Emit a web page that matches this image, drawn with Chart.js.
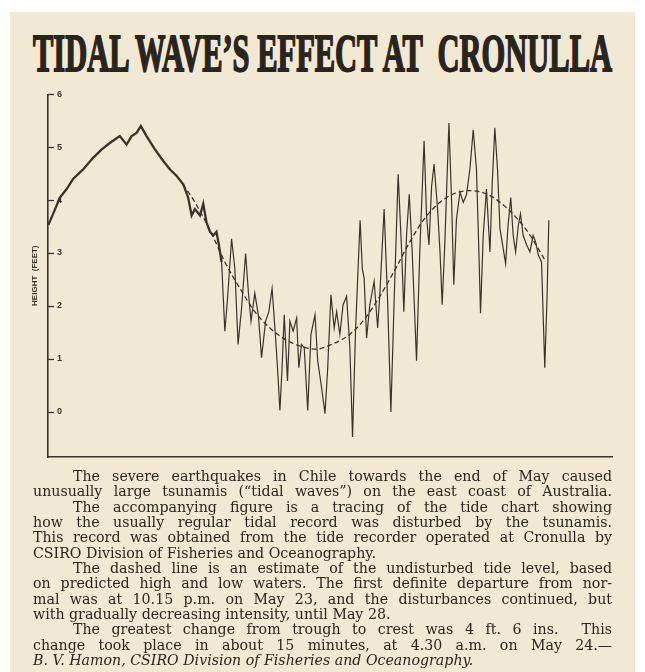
<!DOCTYPE html>
<html>
<head>
<meta charset="utf-8">
<script src="https://cdn.jsdelivr.net/npm/chart.js@4.4.0/dist/chart.umd.min.js"></script>
<style>
  html, body { margin: 0; padding: 0; background: #fff; }
  body { width: 645px; height: 672px; position: relative; overflow: hidden; }
  #page { position: absolute; left: 10px; top: 12px; width: 625px; height: 660px; background: #f1e9d3; }
  #title {
    position: absolute; left: 33px; top: 28px; white-space: pre;
    font: bold 52px "Liberation Serif"; line-height: 1; color: #2a241d;
    -webkit-text-stroke: 1.8px #2a241d; transform-origin: 0 0;
  }
  #chartBox { position: absolute; left: 0; top: 80px; width: 645px; height: 395px; }
  #text {
    position: absolute; left: 33px; top: 469px; width: 579px;
    font: 14.2px "DejaVu Serif"; line-height: 15.35px; color: #2b261f;
  }
  #text div { text-align: justify; text-align-last: justify; }
  #text div.in { padding-left: 40px; }
  #text div.end { text-align-last: left; }
  #text div.sig { font-style: italic; text-align-last: left; }
</style>
</head>
<body>
<div id="page"></div>
<div id="title">TIDAL WAVE’S EFFECT AT  CRONULLA</div>
<div id="chartBox"><canvas id="tide" width="645" height="395"></canvas></div>
<div id="text">
  <div class="in">The severe earthquakes in Chile towards the end of May caused</div>
  <div>unusually large tsunamis (“tidal waves”) on the east coast of Australia.</div>
  <div class="in">The accompanying figure is a tracing of the tide chart showing</div>
  <div>how the usually regular tidal record was disturbed by the tsunamis.</div>
  <div>This record was obtained from the tide recorder operated at Cronulla by</div>
  <div class="end">CSIRO Division of Fisheries and Oceanography.</div>
  <div class="in">The dashed line is an estimate of the undisturbed tide level, based</div>
  <div>on predicted high and low waters. The first definite departure from nor-</div>
  <div>mal was at 10.15 p.m. on May 23, and the disturbances continued, but</div>
  <div class="end">with gradually decreasing intensity, until May 28.</div>
  <div class="in">The greatest change from trough to crest was 4 ft. 6 ins.&nbsp; This</div>
  <div>change took place in about 15 minutes, at 4.30 a.m. on May 24.—</div>
  <div class="sig">B. V. Hamon, CSIRO Division of Fisheries and Oceanography.</div>
</div>
<script>
// hours after noon 23-5-60, height in feet
const recordHours = [3.68, 3.86, 4.11, 4.36, 4.60, 4.97, 5.34, 5.66, 5.96, 6.33, 6.58, 6.77, 6.95, 7.11, 7.32,
  7.63, 7.94, 8.19, 8.43, 8.68, 8.86, 8.99, 9.11, 9.30, 9.42, 9.54, 9.67, 9.79, 9.91, 10.00,
  10.10, 10.22, 10.32, 10.47, 10.59, 10.71, 10.84, 10.99, 11.09, 11.19, 11.33, 11.46, 11.58, 11.73, 11.85,
  11.97, 12.10, 12.17, 12.26, 12.34, 12.42, 12.54, 12.63, 12.75, 12.88, 12.96, 13.06, 13.16, 13.29, 13.41,
  13.56, 13.66, 13.80, 13.93, 14.03, 14.15, 14.27, 14.36, 14.48, 14.60, 14.73, 14.85, 14.95, 15.06, 15.16,
  15.23, 15.31, 15.38, 15.47, 15.59, 15.75, 15.88, 15.96, 16.12, 16.25, 16.37, 16.49, 16.64, 16.77, 16.85,
  16.95, 17.05, 17.16, 17.32, 17.44, 17.60, 17.69, 17.78, 17.88, 17.97, 18.10, 18.19, 18.27, 18.37, 18.52,
  18.62, 18.70, 18.80, 18.93, 19.05, 19.17, 19.30, 19.42, 19.54, 19.63, 19.69, 19.79, 19.91, 20.04, 20.12,
  20.22, 20.32, 20.41, 20.49, 20.62, 20.71, 20.81, 20.90, 20.99, 21.09, 21.17, 21.27, 21.40, 21.52, 21.64,
  21.73, 21.83, 21.95, 22.07, 22.15, 22.22];
const recordFeet = [3.53, 3.74, 4.05, 4.21, 4.40, 4.58, 4.80, 4.96, 5.08, 5.21, 5.05, 5.21, 5.27, 5.40, 5.21,
  4.96, 4.74, 4.58, 4.46, 4.30, 4.05, 3.71, 3.83, 3.71, 3.93, 3.58, 3.40, 3.33, 3.40, 3.15,
  2.83, 1.52, 2.14, 3.27, 2.71, 1.27, 1.96, 2.99, 2.27, 1.71, 2.24, 1.83, 1.02, 1.71, 1.89,
  2.33, 1.39, 0.83, 0.02, 0.83, 1.83, 0.58, 1.71, 1.52, 1.77, 0.83, 1.27, 1.21, 0.02, 1.46,
  1.83, 0.96, 0.46, -0.04, 0.83, 2.21, 1.58, 1.89, 1.46, 2.02, 2.18, 1.21, -0.48, 1.52, 2.77,
  3.62, 2.71, 2.52, 1.39, 2.02, 2.46, 1.58, 2.21, 3.83, 2.08, -0.01, 2.08, 4.49, 3.02, 1.89,
  3.33, 4.11, 3.02, 0.96, 3.02, 5.12, 3.71, 3.15, 4.27, 4.68, 3.83, 3.02, 2.02, 3.21, 5.46,
  3.96, 2.40, 3.65, 4.15, 3.96, 4.10, 4.60, 5.33, 4.58, 3.02, 1.86, 3.33, 4.21, 3.02, 4.27,
  5.37, 4.58, 3.46, 3.21, 2.80, 3.52, 4.05, 3.33, 3.02, 3.52, 3.74, 3.33, 3.15, 3.02, 3.33,
  3.21, 2.96, 2.83, 0.83, 2.08, 3.62];
const tideHours = [8.67, 9.11, 9.67, 10.22, 10.78, 11.33, 11.89, 12.44, 13.00, 13.59, 14.22, 14.85, 15.41,
  15.96, 16.52, 17.07, 17.63, 18.19, 18.74, 19.30, 19.85, 20.41, 20.96, 21.52, 22.07];
const tideFeet = [4.30, 3.96, 3.43, 2.83, 2.33, 1.89, 1.58, 1.37, 1.24, 1.18, 1.28, 1.46, 1.76,
  2.18, 2.68, 3.21, 3.66, 3.96, 4.13, 4.18, 4.13, 3.96, 3.70, 3.34, 2.87];
const heightTicks = [0, 1, 2, 3, 4, 5, 6];
const timeTickHours = [6.04, 11.96, 18.74, 24.0];
const timeTickLabels = ['23-5-60', 'MIDNIGHT', '24-5-60', 'NOON'];

const ink = '#3a332b';
const smallFont = { family: 'Liberation Sans', size: 9, weight: 'bold' };

// fit the headline to the column width
const title = document.getElementById('title');
title.style.transform = 'scaleX(' + (579 / title.getBoundingClientRect().width) + ')';

// short tick dashes inside the height axis
const tickDashes = {
  id: 'tickDashes',
  afterDraw(chart) {
    const { ctx, chartArea, scales } = chart;
    ctx.save();
    ctx.strokeStyle = ink;
    ctx.lineWidth = 1.3;
    scales.y.ticks.forEach(t => {
      const py = Math.round(scales.y.getPixelForValue(t.value)) + 0.5;
      ctx.beginPath();
      ctx.moveTo(chartArea.left, py);
      ctx.lineTo(chartArea.left + 6, py);
      ctx.stroke();
    });
    ctx.restore();
  }
};

new Chart(document.getElementById('tide'), {
  type: 'line',
  data: {
    datasets: [{
      label: 'Tide record',
      data: recordHours.map((h, i) => ({ x: h, y: recordFeet[i] })),
      borderColor: ink,
      borderWidth: 1.3,
      pointRadius: 0,
      tension: 0,
      // the undisturbed part of the trace is drawn heavier (noisy pen)
      segment: { borderWidth: c => c.p1.parsed.x <= 10.1 ? 2.3 : 1.2 }
    }, {
      label: 'Undisturbed tide (estimate)',
      data: tideHours.map((h, i) => ({ x: h, y: tideFeet[i] })),
      borderColor: ink,
      borderWidth: 1.3,
      borderDash: [5, 3],
      pointRadius: 0,
      cubicInterpolationMode: 'monotone'
    }]
  },
  options: {
    responsive: false,
    devicePixelRatio: 1,
    animation: false,
    layout: { padding: { left: 26, right: 33, top: 12, bottom: 8 } },
    plugins: { legend: { display: false }, tooltip: { enabled: false } },
    scales: {
      x: {
        type: 'linear',
        min: 3.67,
        max: 24.56,
        grid: { display: false, drawTicks: false },
        border: { display: true, color: ink, width: 1.6 },
        afterBuildTicks: s => { s.ticks = timeTickHours.map(v => ({ value: v })); },
        afterFit: s => { s.height = 10; },
        ticks: {
          autoSkip: false, maxRotation: 0, padding: -14, color: ink, font: smallFont,
          callback: (v, i) => timeTickLabels[i]
        }
      },
      y: {
        type: 'linear',
        min: -0.86,
        max: 6,
        grid: { display: false, drawTicks: false },
        border: { display: true, color: ink, width: 1.6 },
        afterBuildTicks: s => { s.ticks = heightTicks.map(v => ({ value: v })); },
        afterFit: s => { s.width = 22; },
        ticks: { mirror: true, padding: 9, color: ink, font: smallFont },
        title: {
          display: true, text: 'HEIGHT  (FEET)', color: ink,
          font: { family: 'Liberation Sans', size: 8, weight: 'bold' },
          padding: { top: 4, bottom: 4 }
        }
      }
    }
  },
  plugins: [tickDashes]
});
</script>
</body>
</html>
